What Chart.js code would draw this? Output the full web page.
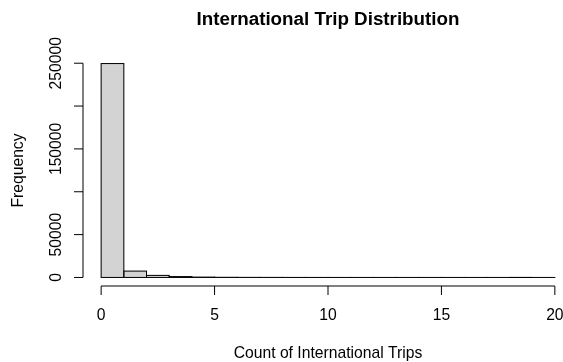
<!DOCTYPE html>
<html>
<head>
<meta charset="utf-8">
<title>International Trip Distribution</title>
<script src="https://cdn.jsdelivr.net/npm/chart.js@4/dist/chart.umd.min.js"></script>
<style>
  html, body { margin: 0; padding: 0; background: #ffffff; overflow: hidden; }
  #frame { width: 563px; height: 362px; overflow: hidden; position: relative; }
  canvas { display: block; }
</style>
</head>
<body>
<div id="frame"><canvas id="hist" width="613" height="362"></canvas></div>
<script>
// Histogram bins (width 1) and their counts
const binStarts = [0, 1, 2, 3, 4, 5, 6, 7, 8, 9, 10, 11, 12, 13, 14, 15, 16, 17, 18, 19];
const frequencies = [249600, 7400, 2400, 1000, 380, 170, 90, 50, 30, 18, 11, 7, 5, 3, 2, 2, 1, 1, 0, 1];

// Axis ticks
const xTickValues = [0, 5, 10, 15, 20];
const xTickLabels = ['0', '5', '10', '15', '20'];
const yTickValues = [0, 50000, 100000, 150000, 200000, 250000];
const yTickLabels = ['0', '50000', '', '150000', '', '250000'];

const chartTitle = 'International Trip Distribution';
const xAxisTitle = 'Count of International Trips';
const yAxisTitle = 'Frequency';

const FONT = '"Liberation Sans", Arial, Helvetica, sans-serif';

// Outlines each bar (including empty bins) and draws base-graphics style axes
const histDecor = {
  id: 'histDecor',
  afterDatasetsDraw(chart) {
    const ctx = chart.ctx;
    const meta = chart.getDatasetMeta(0);
    ctx.save();
    ctx.strokeStyle = '#000000';
    ctx.lineWidth = 1;
    meta.data.forEach(el => {
      const p = el.getProps(['x', 'y', 'base', 'width'], true);
      const top = Math.min(p.y, p.base);
      const h = Math.abs(p.base - p.y);
      ctx.strokeRect(p.x - p.width / 2, top, p.width, h);
    });
    ctx.restore();
  },
  afterDraw(chart) {
    const ctx = chart.ctx;
    const xs = chart.scales.x;
    const ys = chart.scales.y;
    const area = chart.chartArea;
    const tick = 9;
    ctx.save();
    ctx.strokeStyle = '#000000';
    ctx.fillStyle = '#000000';
    ctx.lineWidth = 1;

    // x axis
    const axY = area.bottom;
    const x0 = xs.getPixelForValue(xTickValues[0]);
    const x1 = xs.getPixelForValue(xTickValues[xTickValues.length - 1]);
    ctx.beginPath();
    ctx.moveTo(x0, axY);
    ctx.lineTo(x1, axY);
    xTickValues.forEach(v => {
      const px = xs.getPixelForValue(v);
      ctx.moveTo(px, axY);
      ctx.lineTo(px, axY + tick);
    });
    ctx.stroke();
    ctx.font = '15.7px ' + FONT;
    ctx.textAlign = 'center';
    ctx.textBaseline = 'alphabetic';
    xTickValues.forEach((v, i) => {
      ctx.fillText(xTickLabels[i], xs.getPixelForValue(v), 320);
    });

    // y axis
    const axX = area.left;
    const y0 = ys.getPixelForValue(yTickValues[0]);
    const y1 = ys.getPixelForValue(yTickValues[yTickValues.length - 1]);
    ctx.beginPath();
    ctx.moveTo(axX, y0);
    ctx.lineTo(axX, y1);
    yTickValues.forEach(v => {
      const py = ys.getPixelForValue(v);
      ctx.moveTo(axX, py);
      ctx.lineTo(axX - tick, py);
    });
    ctx.stroke();
    yTickValues.forEach((v, i) => {
      if (!yTickLabels[i]) return;
      ctx.save();
      ctx.translate(61, ys.getPixelForValue(v));
      ctx.rotate(-Math.PI / 2);
      ctx.fillText(yTickLabels[i], 0, 0);
      ctx.restore();
    });

    // titles
    const cx = (area.left + area.right) / 2;
    const cy = (area.top + area.bottom) / 2;
    ctx.fillText(xAxisTitle, cx, 358);
    ctx.save();
    ctx.translate(23, cy);
    ctx.rotate(-Math.PI / 2);
    ctx.fillText(yAxisTitle, 0, 0);
    ctx.restore();
    ctx.font = 'bold 18.8px ' + FONT;
    ctx.fillText(chartTitle, cx, 25);
    ctx.restore();
  }
};

new Chart(document.getElementById('hist'), {
  type: 'bar',
  data: {
    datasets: [{
      label: yAxisTitle,
      data: binStarts.map((b, i) => ({ x: b + 0.5, y: frequencies[i] })),
      backgroundColor: '#d3d3d3',
      borderWidth: 0,
      barPercentage: 1,
      categoryPercentage: 1
    }]
  },
  options: {
    responsive: false,
    animation: false,
    devicePixelRatio: 1,
    layout: { padding: { left: 83, right: 40, top: 55, bottom: 76 } },
    scales: {
      x: { type: 'linear', display: false, offset: false, min: -0.8, max: 20.8, grid: { offset: false } },
      y: { type: 'linear', display: false, min: -9984, max: 259584 }
    },
    plugins: {
      legend: { display: false },
      tooltip: { enabled: false },
      title: { display: false }
    }
  },
  plugins: [histDecor]
});
</script>
</body>
</html>
